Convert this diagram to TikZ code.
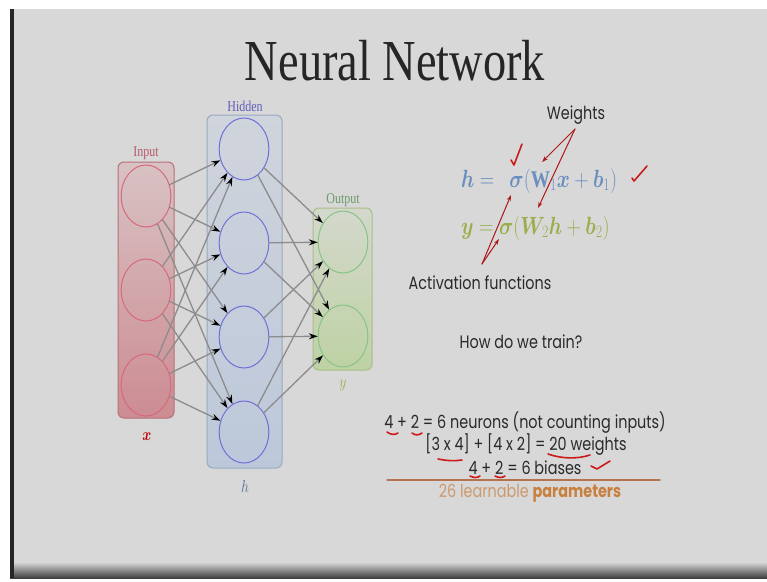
\documentclass[tikz,border=0pt]{standalone}
\usepackage{amsmath,bm}
\usepackage{fontspec}
\setmainfont{Liberation Serif}
\setsansfont{Poppins}
\usetikzlibrary{arrows.meta}

\definecolor{slidebg}{HTML}{D8D8D8}
\definecolor{inred}{HTML}{D8687C}
\definecolor{inbox}{HTML}{B87078}
\definecolor{intop}{HTML}{D8C2C4}
\definecolor{inbot}{HTML}{CC8C92}
\definecolor{hidblue}{HTML}{6E70D8}
\definecolor{hidbox}{HTML}{98AAC2}
\definecolor{hidtop}{HTML}{D0D4DC}
\definecolor{hidbot}{HTML}{BCC8DA}
\definecolor{outgreen}{HTML}{86C486}
\definecolor{outbox}{HTML}{A8BE88}
\definecolor{outtop}{HTML}{D4D8CC}
\definecolor{outbot}{HTML}{BED2A4}
\definecolor{eqblue}{HTML}{6A8EC0}
\definecolor{eqgreen}{HTML}{9AAE4C}
\definecolor{pen}{HTML}{CC1A1A}
\definecolor{sumline}{HTML}{B47450}
\definecolor{sumtext}{HTML}{CC9A6E}
\definecolor{sumbold}{HTML}{C8803E}
\definecolor{txt}{HTML}{2A2A2A}

\begin{document}
\begin{tikzpicture}[x=1pt, y=-1pt, line cap=round, line join=round,
  every node/.append style={xscale=0.8, transform shape},
  neuron/.style={circle, minimum size=62pt, inner sep=0pt, line width=1pt},
  layerbox/.style={rounded corners=6pt, line width=1pt},
  link/.style={draw=black!45, line width=1.3pt, -{Stealth[black, length=9pt, width=6pt]}},
  penarrow/.style={draw=pen!85!black, line width=1pt, -{Stealth[length=6pt, width=4pt]}},
  penmark/.style={draw=pen, line width=1.6pt},
  tag/.style={font=\fontsize{15}{17}\selectfont},
  words/.style={font=\sffamily\fontsize{18}{21}\selectfont, text=txt, inner sep=0pt}]
  \useasboundingbox (0,0) rectangle (767,581);

  % --- slide background ---
  \fill[white] (0,0) rectangle (767,581);
  \fill[slidebg] (10,9) rectangle (767,566);
  \shade[top color=slidebg, bottom color=black!75] (10,562) rectangle (767,578);
  \fill[black!85] (10,9) rectangle (14,578);

  % --- title ---
  \node[font=\fontsize{58}{64}\selectfont, text=black!85, anchor=base] (title) at (395,80) {Neural Network};

  % --- layer boxes ---
  \shade[layerbox, top color=intop, bottom color=inbot, draw=inbox] (118,162) rectangle (174,418);
  \shade[layerbox, top color=hidtop, bottom color=hidbot, draw=hidbox] (207,115) rectangle (282,468);
  \shade[layerbox, top color=outtop, bottom color=outbot, draw=outbox] (313,208) rectangle (372,370);

  % --- neurons ---
  \node[neuron, draw=inred] (in1) at (146,196) {};
  \node[neuron, draw=inred] (in2) at (146,290) {};
  \node[neuron, draw=inred] (in3) at (146,385) {};
  \node[neuron, draw=hidblue] (hid1) at (244,149) {};
  \node[neuron, draw=hidblue] (hid2) at (244,243) {};
  \node[neuron, draw=hidblue] (hid3) at (244,337) {};
  \node[neuron, draw=hidblue] (hid4) at (244,432) {};
  \node[neuron, draw=outgreen] (out1) at (343,242) {};
  \node[neuron, draw=outgreen] (out2) at (343,336) {};

  % --- layer names and symbols ---
  \node[tag, text=inred!85!black] (inname) at (146,153) {Input};
  \node[tag, text=hidblue!85!black] (hidname) at (245,106) {Hidden};
  \node[tag, text=outgreen!80!black] (outname) at (343,200) {Output};
  \node[font=\fontsize{18}{20}\selectfont, text=red!75!black] (xsym) at (147,437) {$\bm{x}$};
  \node[font=\fontsize{18}{20}\selectfont, text=eqblue!80!black] (hsym) at (245,486) {$h$};
  \node[font=\fontsize{18}{20}\selectfont, text=eqgreen] (ysym) at (343,385) {$y$};

  % --- connections ---
  \foreach \i in {1,2,3}
    \foreach \j in {1,...,4}
      \draw[link] (in\i) -- (hid\j);
  \foreach \j in {1,...,4}
    \foreach \k in {1,2}
      \draw[link] (hid\j) -- (out\k);

  % --- equations ---
  \node[anchor=west, inner sep=0pt, text=eqblue, font=\fontsize{24}{28}\selectfont] (eqh) at (461,181)
    {$\bm{h} =\ \ \bm{\sigma}(\mathbf{W}_1\bm{x} + \bm{b}_1)$};
  \node[anchor=west, inner sep=0pt, text=eqgreen, font=\fontsize{24}{28}\selectfont] (eqy) at (461,228)
    {$\bm{y} = \bm{\sigma}(\bm{W}_2\bm{h} + \bm{b}_2)$};

  \node[words] (wts) at (576,115) {Weights};
  \node[words] (act) at (480,283) {Activation functions};
  \node[words] (train) at (521,342) {How do we train?};

  % --- hand-drawn arrows ---
  \coordinate (wfork) at (575,129);
  \coordinate (afork) at (482,264);
  \draw[penarrow] (wfork) -- (542,162);
  \draw[penarrow] (wfork) -- (538,208);
  \draw[penarrow] (afork) -- (511,195);
  \draw[penarrow] (afork) -- (499,239);
  \draw[penmark] (511,160) -- (514,165) -- (522,144);
  \draw[penmark] (632,178) -- (634,181) -- (647,166);

  % --- parameter count ---
  \node[words] (neurons) at (525,423) {4 + 2 = 6 neurons (not counting inputs)};
  \node[words] (weights) at (526,445) {[3 x 4] + [4 x 2] = 20 weights};
  \node[words] (biases) at (525,468) {4 + 2 = 6 biases};
  \draw[sumline, line width=1.2pt] (387,480) -- (660,480);
  \node[words, text=sumtext] (total) at (530,493) {26 learnable \textcolor{sumbold}{\textbf{parameters}}};

  % --- underlines and tick ---
  \draw[penmark] (387,432) .. controls (391,435) and (395,435) .. (398,433);
  \draw[penmark] (412,433) .. controls (416,436) and (419,435) .. (422,433);
  \draw[penmark] (438,459) .. controls (448,461) and (455,461) .. (462,460);
  \draw[penmark] (548,454) .. controls (562,459) and (578,459) .. (590,455);
  \draw[penmark] (470,476) .. controls (474,478) and (477,478) .. (480,476);
  \draw[penmark] (495,476) .. controls (499,478) and (502,478) .. (505,476);
  \draw[penmark] (591,466) -- (597,469) -- (610,461);
\end{tikzpicture}
\end{document}
